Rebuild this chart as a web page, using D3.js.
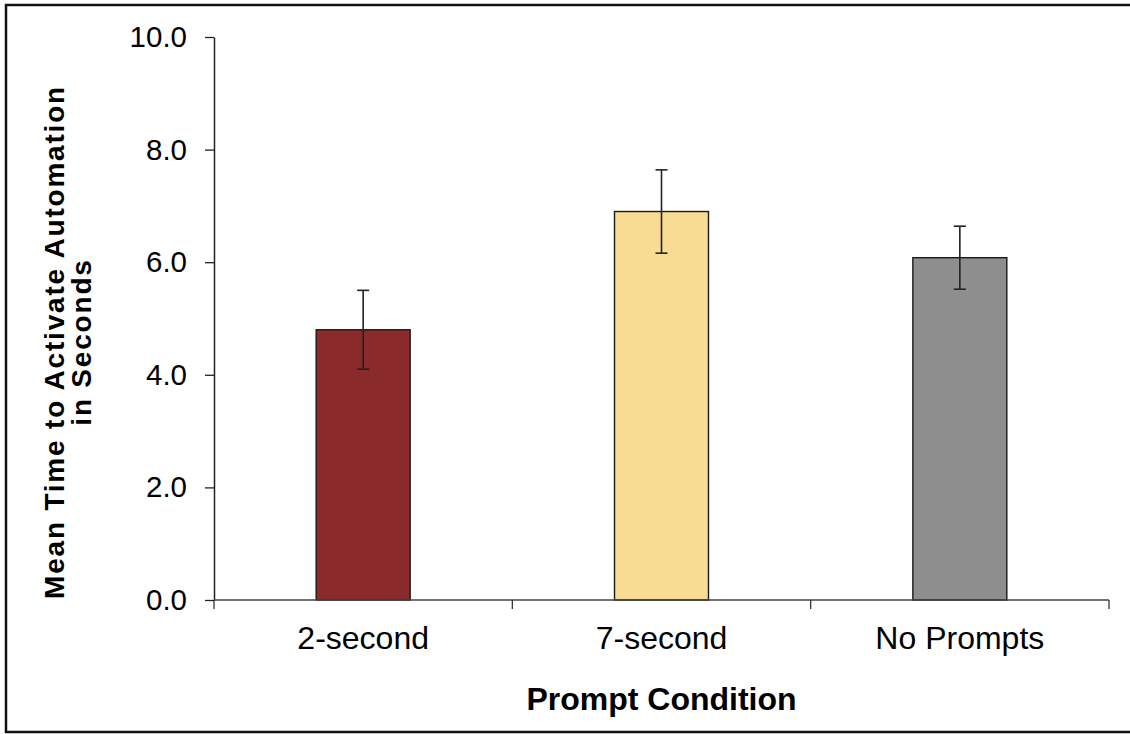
<!DOCTYPE html>
<html>
<head>
<meta charset="utf-8">
<script src="https://cdn.jsdelivr.net/npm/d3@7"></script>
<style>
  html, body { margin: 0; padding: 0; background: #fff; }
  svg { display: block; }
  text { font-family: "Liberation Sans", Arial, sans-serif; fill: #000; }
</style>
</head>
<body>
<svg id="chart" width="1130" height="734"></svg>
<script>
// Mean time to activate automation, by prompt condition
const conditions = ["2-second", "7-second", "No Prompts"];
const meanSeconds = [4.8, 6.9, 6.08];
const errorSeconds = [0.70, 0.74, 0.56];
const barColors = ["#8B2A2A", "#F8DC94", "#8E8E8E"];
const yTicks = [0, 2, 4, 6, 8, 10];

const svg = d3.select("#chart");
const margin = { left: 214, right: 21, top: 37, bottom: 134 };
const W = 1130, H = 734;

// outer frame
svg.append("rect")
  .attr("x", 6).attr("y", 5)
  .attr("width", 1140).attr("height", 727)
  .attr("fill", "none").attr("stroke", "#111").attr("stroke-width", 2.5);

const x = d3.scaleBand()
  .domain(conditions)
  .range([margin.left, W - margin.right])
  .paddingInner(0).paddingOuter(0);

const y = d3.scaleLinear()
  .domain([0, 10])
  .range([H - margin.bottom, margin.top]);

const barW = x.bandwidth() * 0.315;

// bars
svg.append("g").selectAll("rect")
  .data(conditions)
  .join("rect")
  .attr("x", (d) => x(d) + x.bandwidth() / 2 - barW / 2)
  .attr("y", (d, i) => y(meanSeconds[i]))
  .attr("width", barW)
  .attr("height", (d, i) => y(0) - y(meanSeconds[i]))
  .attr("fill", (d, i) => barColors[i])
  .attr("stroke", "#1a1a1a")
  .attr("stroke-width", 1.4);

// error bars
const eb = svg.append("g").attr("stroke", "#222").attr("stroke-width", 1.6);
conditions.forEach((c, i) => {
  const cx = x(c) + x.bandwidth() / 2;
  const hi = y(meanSeconds[i] + errorSeconds[i]);
  const lo = y(meanSeconds[i] - errorSeconds[i]);
  eb.append("line").attr("x1", cx).attr("x2", cx).attr("y1", hi).attr("y2", lo);
  eb.append("line").attr("x1", cx - 6).attr("x2", cx + 6).attr("y1", hi).attr("y2", hi);
  eb.append("line").attr("x1", cx - 6).attr("x2", cx + 6).attr("y1", lo).attr("y2", lo);
});

// y axis
const yAxis = svg.append("g")
  .attr("transform", `translate(${margin.left},0)`)
  .call(d3.axisLeft(y).tickValues(yTicks).tickFormat(d3.format(".1f")).tickSize(9).tickSizeOuter(0).tickPadding(18));
yAxis.select(".domain").attr("stroke", "#222").attr("stroke-width", 1.5);
yAxis.selectAll(".tick line").attr("stroke", "#222").attr("stroke-width", 1.3);
yAxis.selectAll(".tick text")
  .attr("font-size", 29.5)
  .attr("font-family", "Liberation Sans, Arial, sans-serif")
  .attr("fill", "#111");

// x axis: ticks at category boundaries
const xAxis = svg.append("g").attr("transform", `translate(0,${y(0)})`);
xAxis.append("line")
  .attr("x1", margin.left).attr("x2", W - margin.right)
  .attr("stroke", "#444").attr("stroke-width", 1.5);
const bounds = conditions.map((c) => x(c)).concat([x(conditions[conditions.length - 1]) + x.bandwidth()]);
xAxis.selectAll(".bt").data(bounds).join("line")
  .attr("x1", (d) => d).attr("x2", (d) => d)
  .attr("y1", 0).attr("y2", 9)
  .attr("stroke", "#333").attr("stroke-width", 1.3);
xAxis.selectAll(".cl").data(conditions).join("text")
  .attr("x", (d) => x(d) + x.bandwidth() / 2)
  .attr("y", 49)
  .attr("text-anchor", "middle")
  .attr("font-size", 32)
  .attr("fill", "#111")
  .text((d) => d);

// axis titles
svg.append("text")
  .attr("x", (margin.left + W - margin.right) / 2)
  .attr("y", 710)
  .attr("text-anchor", "middle")
  .attr("font-size", 32)
  .attr("font-weight", "bold")
  .text("Prompt Condition");

const yt = svg.append("text")
  .attr("transform", "translate(0,342) rotate(-90)")
  .attr("text-anchor", "middle")
  .attr("font-size", 28)
  .attr("letter-spacing", 1.8)
  .attr("font-weight", "bold");
yt.append("tspan").attr("x", 0).attr("y", 64).text("Mean Time to Activate Automation");
yt.append("tspan").attr("x", 0).attr("y", 91).text("in Seconds");
</script>
</body>
</html>
